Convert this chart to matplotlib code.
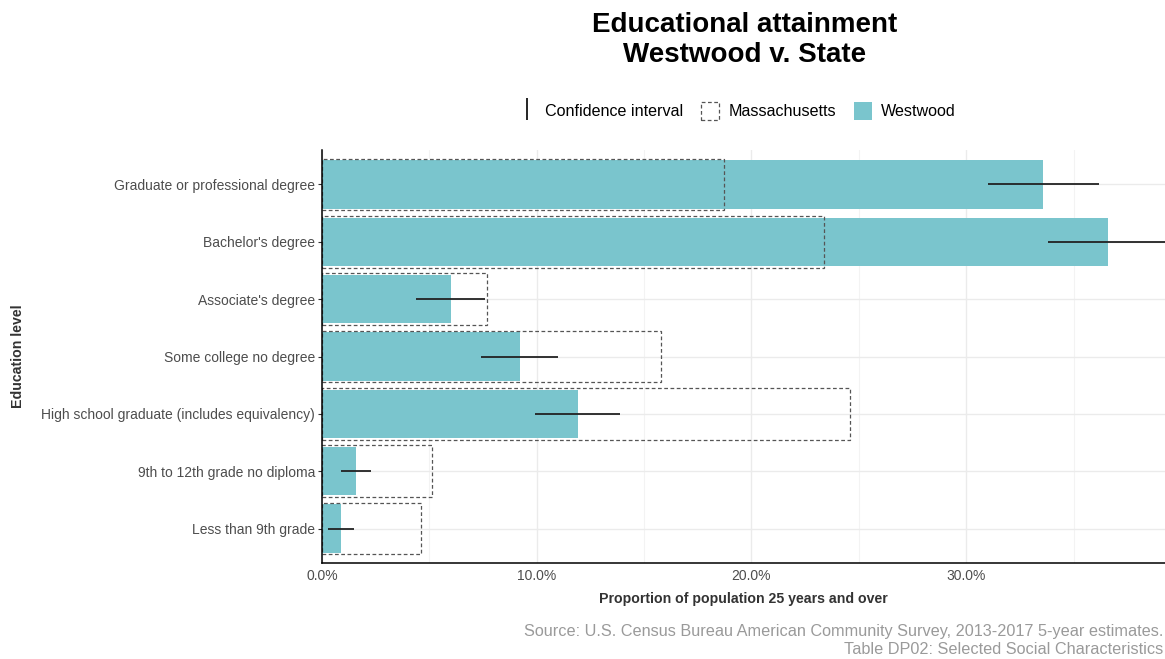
import numpy as np
import matplotlib
matplotlib.use("Agg")
import matplotlib.pyplot as plt
from matplotlib.patches import Patch
from matplotlib.lines import Line2D
from matplotlib.ticker import FuncFormatter, MultipleLocator

plt.rcParams['font.family'] = ['Liberation Sans', 'DejaVu Sans']

# categories, bottom to top
levels = ["Less than 9th grade",
          "9th to 12th grade no diploma",
          "High school graduate (includes equivalency)",
          "Some college no degree",
          "Associate's degree",
          "Bachelor's degree",
          "Graduate or professional degree"]

# proportions of population 25+
westwood = [0.009, 0.016, 0.119, 0.092, 0.060, 0.366, 0.336]
massachusetts = [0.046, 0.051, 0.246, 0.158, 0.077, 0.234, 0.187]
ci_low = [0.003, 0.009, 0.099, 0.074, 0.044, 0.338, 0.310]
ci_high = [0.015, 0.023, 0.139, 0.110, 0.076, 0.394, 0.362]

teal = "#7AC5CD"

fig = plt.figure(figsize=(11.65, 6.59), dpi=100)
ax = fig.add_axes([322 / 1165, 1 - 563 / 659, 1 - 322 / 1165, (563 - 150) / 659])

y = np.arange(len(levels))

# grid
ax.set_axisbelow(True)
ax.xaxis.set_major_locator(MultipleLocator(0.10))
ax.xaxis.set_minor_locator(MultipleLocator(0.05))
ax.grid(which='major', axis='both', color='#EBEBEB', linewidth=1.0)
ax.grid(which='minor', axis='x', color='#F3F3F3', linewidth=0.8)

# westwood bars
ax.barh(y, westwood, height=0.84, color=teal, edgecolor='none', zorder=2)
# massachusetts dashed outline boxes
ax.barh(y, massachusetts, height=0.9, facecolor='none', edgecolor='#555555',
        linestyle=(0, (3, 2)), linewidth=0.9, zorder=3)
# confidence intervals
ax.hlines(y, ci_low, ci_high, color='#222222', linewidth=1.3, zorder=4)

ax.set_xlim(0, 0.3926)
ax.set_ylim(-0.6, len(levels) - 0.4)
ax.set_yticks(y)
ax.set_yticklabels(levels)
ax.xaxis.set_major_formatter(FuncFormatter(lambda v, p: "{:.1f}%".format(v * 100)))

for s in ['top', 'right']:
    ax.spines[s].set_visible(False)
ax.spines['left'].set_color('black')
ax.spines['bottom'].set_color('black')
ax.spines['left'].set_linewidth(1.1)
ax.spines['bottom'].set_linewidth(1.1)
ax.spines['left'].set_zorder(5)

ax.tick_params(axis='y', which='major', length=3, color='#333333', labelsize=10,
               labelcolor='#4D4D4D', pad=2)
ax.tick_params(axis='x', which='both', length=0, labelsize=10,
               labelcolor='#4D4D4D', pad=4)

ax.set_xlabel("Proportion of population 25 years and over", fontsize=10.2,
              fontweight='bold', color='#333333', labelpad=7)
fig.text(18 / 1165, 1 - 356 / 659, "Education level", rotation=90, fontsize=10.2,
         fontweight='bold', color='#333333', ha='center', va='center')

fig.text(745 / 1165, 1 - 40 / 659, "Educational attainment\nWestwood v. State",
         ha='center', va='center', fontsize=20, fontweight='bold',
         linespacing=1.2)

handles = [Line2D([], [], marker='|', linestyle='None', color='black',
                  markersize=16, markeredgewidth=1.2),
           Patch(facecolor='none', edgecolor='#555555', linestyle=(0, (3, 2)),
                 linewidth=0.9),
           Patch(facecolor=teal, edgecolor='none')]
fig.legend(handles, ["Confidence interval", "Massachusetts", "Westwood"],
           loc='center', bbox_to_anchor=(737 / 1165, 1 - 111 / 659), ncol=3,
           frameon=False, fontsize=11.6, handlelength=1.1, handleheight=1.3,
           handletextpad=0.6, columnspacing=1.1)

fig.text(1163 / 1165, 1 - 640.5 / 659,
         "Source: U.S. Census Bureau American Community Survey, 2013-2017 5-year estimates.\n"
         "Table DP02: Selected Social Characteristics",
         ha='right', va='center', fontsize=11.7, color='#9A9A9A', linespacing=1.2,
         multialignment='right')

fig.savefig("out.png", dpi=100)
